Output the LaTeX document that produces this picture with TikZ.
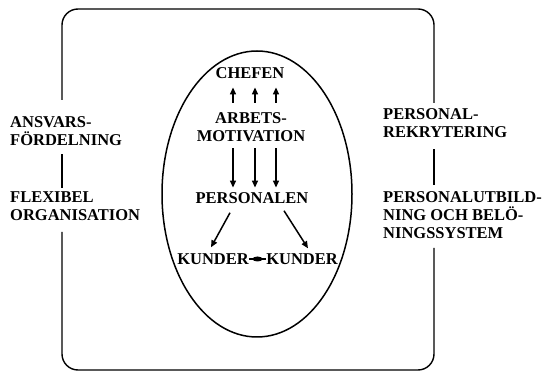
\documentclass[tikz,border=0pt]{standalone}
\usepackage{fontspec}
\setmainfont{Liberation Serif}
\usetikzlibrary{arrows.meta,shapes.geometric}
\begin{document}
\begin{tikzpicture}[x=1pt,y=-1pt,
  lbl/.style={font=\fontsize{16.5}{18}\selectfont\bfseries, inner sep=0pt},
  arr/.style={line width=1.5pt, -{Triangle[length=7pt,width=6pt]}},
  frame/.style={line width=1.4pt},
  lens/.style={ellipse, fill, inner sep=0pt, minimum width=10pt, minimum height=5pt}]
\useasboundingbox (0,0) rectangle (544,371);
% outer frame
\coordinate (FL) at (62,0);
\coordinate (FR) at (434,0);
\draw[frame, rounded corners=16pt] (62,100) -- (62,9) -- (434,9) -- (434,103);
\draw[frame, rounded corners=16pt] (434,248) -- (434,370) -- (62,370) -- (62,232);
% ellipse
\draw[line width=1.5pt] (257,194) ellipse [x radius=95pt, y radius=143pt];
% nodes
\node[lbl] (chef) at (250,73) {CHEFEN};
\node[lbl, align=center] (arb) at (251,127) {ARBETS-\\MOTIVATION};
\node[lbl] (pers) at (252,198) {PERSONALEN};
\node[lbl] (k1) at (213,259) {KUNDER};
\node[lbl] (k2) at (302,259) {KUNDER};
\node[lbl, align=left, anchor=west] (ans) at (10,131) {ANSVARS-\\FÖRDELNING};
\node[lbl, align=left, anchor=west] (flex) at (10,206) {FLEXIBEL\\ORGANISATION};
\node[lbl, align=left, anchor=west] (rek) at (383,123) {PERSONAL-\\REKRYTERING};
\node[lbl, align=left, anchor=west] (pu) at (383,215) {PERSONALUTBILD-\\NING OCH BELÖ-\\NINGSSYSTEM};
% arrows up and down
\foreach \s in {-18,4,25}{
  \draw[arr, shorten <=9.7pt, shorten >=8.7pt] ([xshift=\s pt]arb.north) -- ([xshift=\s pt]arb.north |- chef.south);
  \draw[arr, shorten <=6.7pt, shorten >=4.7pt] ([xshift=\s pt]arb.south) -- ([xshift=\s pt]arb.south |- pers.north);
}
% diagonal arrows
\draw[arr] ([xshift=-22pt,yshift=-9pt]pers.south) -- ([xshift=-2pt,yshift=6pt]k1.north);
\draw[arr] ([xshift=32pt,yshift=-7pt]pers.south) -- ([xshift=6pt,yshift=5pt]k2.north);
% kunder link
\draw[line width=1.3pt] (k1.east) -- node[lens]{} (k2.west);
% side links
\draw[frame, shorten <=8.7pt, shorten >=3.7pt] (ans.south -| FL) -- (flex.north -| FL);
\draw[frame, shorten <=11.7pt, shorten >=6.7pt] (rek.south -| FR) -- (pu.north -| FR);
\end{tikzpicture}
\end{document}
